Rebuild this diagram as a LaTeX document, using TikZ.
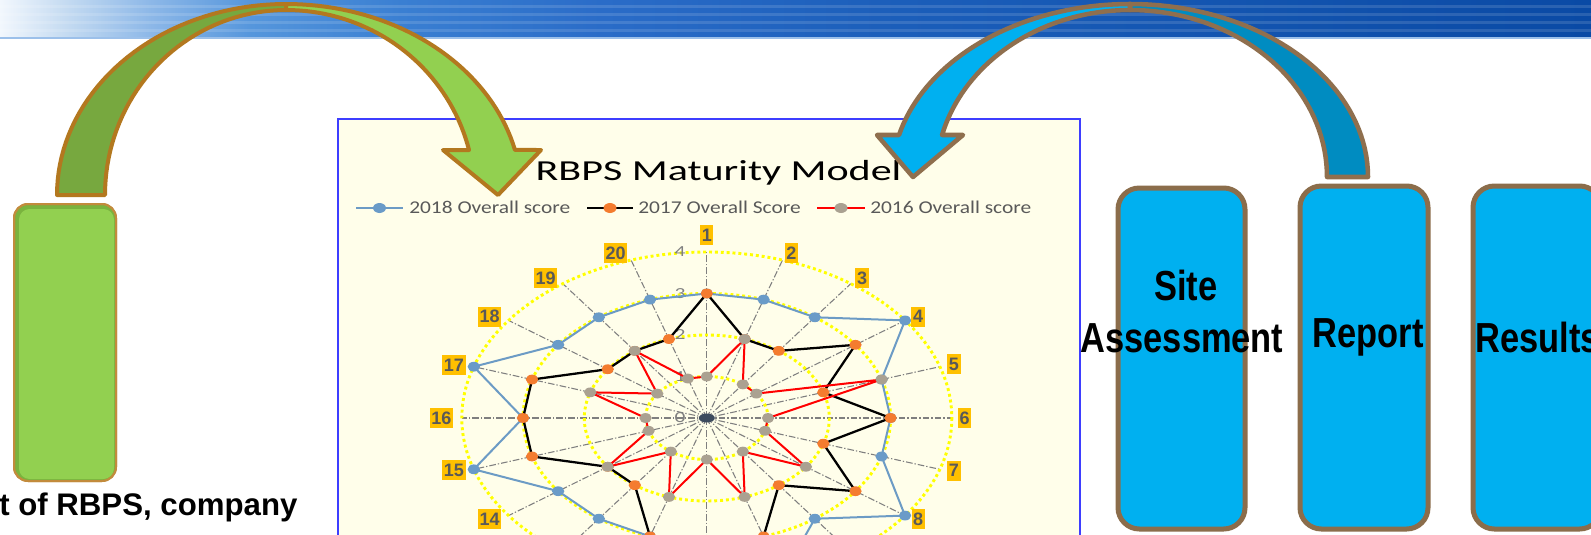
\documentclass[tikz,border=0pt]{standalone}
\usepackage{fontspec}
\setmainfont{Liberation Sans}
\newfontfamily\narrowsans[FakeStretch=0.82]{Liberation Sans}
\newfontfamily\caltitle[FakeStretch=1.45]{Carlito}
\newfontfamily\callegend[FakeStretch=1.19]{Carlito}
\newfontfamily\calaxis[FakeStretch=1.4]{Carlito}
\definecolor{bn0}{HTML}{F2F7FD}
\definecolor{bn1}{HTML}{C8DDF2}
\definecolor{bn2}{HTML}{8DB8E8}
\definecolor{bn3}{HTML}{5596DC}
\definecolor{bn4}{HTML}{3A7FD2}
\definecolor{bn5}{HTML}{2A6CC8}
\definecolor{bn6}{HTML}{1B5EBA}
\definecolor{bn7}{HTML}{0A4AA5}
\definecolor{gdark}{HTML}{77A83F}
\definecolor{glight}{HTML}{92D050}
\definecolor{gbrown}{HTML}{B3781F}
\definecolor{bdark}{HTML}{008CC1}
\definecolor{blight}{HTML}{00B0F0}
\definecolor{bbrown}{HTML}{8F6F4E}
\definecolor{boxblue}{HTML}{00B0F0}
\definecolor{boxbrown}{HTML}{8B6D4B}
\definecolor{gboxshadow}{HTML}{7AB33E}
\definecolor{gboxline}{HTML}{C28B3C}
\definecolor{chartbg}{HTML}{FFFEEA}
\definecolor{chartframe}{HTML}{3E3EFF}
\definecolor{ringyellow}{HTML}{FFFF00}
\definecolor{spokegray}{HTML}{7F7F7F}
\definecolor{serblue}{HTML}{6C9BC5}
\definecolor{mkblue}{HTML}{6A9BC8}
\definecolor{mkorange}{HTML}{F47C2F}
\definecolor{mkgray}{HTML}{AAA191}
\definecolor{lblgold}{HTML}{FFC000}
\definecolor{lbltext}{HTML}{595959}
\definecolor{axgray}{HTML}{808080}
\definecolor{legtextc}{HTML}{595959}
\definecolor{blobc}{HTML}{3D4B5E}
\definecolor{bannerline}{HTML}{9CC0EA}
\pgfdeclarehorizontalshading{bannershade}{100bp}{color(0bp)=(bn0); color(25bp)=(bn0); color(26.9bp)=(bn1); color(29.7bp)=(bn2); color(32.9bp)=(bn3); color(37.6bp)=(bn4); color(43.9bp)=(bn5); color(53.3bp)=(bn6); color(75bp)=(bn7); color(100bp)=(bn7)}
\begin{document}
\begin{tikzpicture}[x=0.75pt,y=-0.75pt,
  ring/.style={draw=ringyellow,line width=2.2pt,dash pattern=on 2.2pt off 2.2pt},
  spoke/.style={draw=spokegray,line width=0.8pt,dash pattern=on 5pt off 1.5pt on 1pt off 1.5pt},
  blueser/.style={draw=serblue,line width=1.5pt,line join=round},
  blackser/.style={draw=black,line width=1.7pt,line join=round},
  redser/.style={draw=red,line width=1.5pt,line join=round},
  bluemk/.style={fill=mkblue},
  orangemk/.style={fill=mkorange},
  graymk/.style={fill=mkgray},
  catlbl/.style={fill=lblgold,text=lbltext,font=\fontsize{13.5pt}{14pt}\selectfont\bfseries,inner xsep=1.2pt,inner ysep=1pt,minimum height=15pt},
  axlbl/.style={text=axgray,font=\calaxis\fontsize{11.5pt}{12pt}\selectfont,inner sep=0pt},
  legtext/.style={text=legtextc,font=\callegend\fontsize{13.5pt}{14pt}\selectfont,inner sep=0pt,anchor=base west},
  bluebox/.style={draw=boxbrown,line width=3.75pt,fill=boxblue,rounded corners=16pt},
  boxtext/.style={font=\narrowsans\bfseries\fontsize{31.5pt}{34pt}\selectfont,inner sep=0pt},
  garrow/.style={draw=gbrown,line width=3pt,line join=round},
  barrow/.style={draw=bbrown,line width=3.4pt,line join=round}]
\useasboundingbox (0,0) rectangle (1591,535);
\clip (0,0) rectangle (1591,535);
\fill[white] (0,0) rectangle (1591,535);
% banner
\shade[shading=bannershade] (0,0) rectangle (1591,39);
\foreach \yy in {7,15,23,31} \fill[white,opacity=0.13] (0,\yy-1.5) rectangle (1591,\yy+1.5);
\fill[bannerline] (0,37.5) rectangle (1591,39);
% left green box
\node[draw=gboxline,line width=1.5pt,fill=gboxshadow,rounded corners=10.5pt,minimum width=76.5pt,minimum height=207.75pt,inner sep=0pt] (gbox) at (65,342.5) {};
\fill[glight,rounded corners=8pt] (19,209) rectangle (114,479);
\draw[gboxline,line width=1.5pt,rounded corners=10.5pt] (14,204) rectangle (116,481);
\node[anchor=base west,inner sep=0pt,font=\bfseries\fontsize{23.4pt}{26pt}\selectfont] (lefttext) at (-1,515) {t of RBPS, company};
% chart frame
\fill[chartbg] (338,119) rectangle (1080,545);
\draw[chartframe,line width=1.5pt] (338,119) rectangle (1080,545);
\node[anchor=base,inner sep=0pt,font=\caltitle\fontsize{21.75pt}{24pt}\selectfont] (title) at (718.5,180) {RBPS Maturity Model};
% legend
\coordinate (l1a) at (356,208); \coordinate (l1b) at (403,208); \coordinate (l1m) at (379.5,208);
\coordinate (l2a) at (587,208); \coordinate (l2b) at (633,208); \coordinate (l2m) at (610,208);
\coordinate (l3a) at (817,208); \coordinate (l3b) at (865,208); \coordinate (l3m) at (841,208);
\draw[blueser] (l1a) -- (l1b); \fill[bluemk] (l1m) ellipse [x radius=6.5,y radius=5];
\node[legtext] (leg1) at (409,213.5) {2018 Overall score};
\draw[blackser] (l2a) -- (l2b); \fill[orangemk] (l2m) ellipse [x radius=6.5,y radius=5];
\node[legtext] (leg2) at (638,213.5) {2017 Overall Score};
\draw[redser] (l3a) -- (l3b); \fill[graymk] (l3m) ellipse [x radius=6.5,y radius=5];
\node[legtext] (leg3) at (870,213.5) {2016 Overall score};
% radar
\def\cx{706.8}\def\cy{418}\def\ax{61.25}\def\ay{41.5}
\coordinate (O) at (\cx,\cy);
\foreach \k in {1,...,20} {
  \coordinate (S\k) at ({\cx+4*\ax*sin(18*(\k-1))},{\cy-4*\ay*cos(18*(\k-1))});
  \draw[spoke] (O) -- (S\k);
}
\fill[blobc] (O) ellipse [x radius=8,y radius=4.5];
\foreach \r in {1,2,3,4} \draw[ring] (O) ellipse [x radius={\r*\ax},y radius={\r*\ay}];
\foreach \r in {0,...,4} \node[axlbl] (R\r) at (680,{\cy-\r*\ay}) {\r};
\def\blueVals{3,3,3,4,3,3,3,4,3,4,3,3,3,3,4,3,4,3,3,3}
\def\orangeVals{3,2,2,3,2,3,2,3,2,3,3,3,2,2,3,3,3,2,2,2}
\def\grayVals{1,2,1,1,3,1,1,2,1,2,1,2,1,2,1,1,2,1,2,1}
\foreach \v [count=\k] in \blueVals {\coordinate (B\k) at ({\cx+\v*\ax*sin(18*(\k-1))},{\cy-\v*\ay*cos(18*(\k-1))});}
\foreach \v [count=\k] in \orangeVals {\coordinate (K\k) at ({\cx+\v*\ax*sin(18*(\k-1))},{\cy-\v*\ay*cos(18*(\k-1))});}
\foreach \v [count=\k] in \grayVals {\coordinate (G\k) at ({\cx+\v*\ax*sin(18*(\k-1))},{\cy-\v*\ay*cos(18*(\k-1))});}
\draw[blueser] (B1) \foreach \k in {2,...,20}{ -- (B\k)} -- cycle;
\foreach \k in {1,...,20} \fill[bluemk] (B\k) ellipse [x radius=6.2,y radius=4.9];
\draw[blackser] (K1) \foreach \k in {2,...,20}{ -- (K\k)} -- cycle;
\foreach \k in {1,...,20} \fill[orangemk] (K\k) ellipse [x radius=6.2,y radius=4.9];
\draw[redser] (G1) \foreach \k in {2,...,20}{ -- (G\k)} -- cycle;
\foreach \k in {1,...,20} \fill[graymk] (G\k) ellipse [x radius=6.2,y radius=4.9];
% category labels (9-13 fall below the visible area)
\foreach \k/\px/\py in {1/706.8/235, 2/791.4/253.3, 3/862/278.3, 4/918/316.7, 5/953.9/364.3, 6/964.6/418, 7/953.9/470.7, 8/918.2/519, 14/489.6/519, 15/453.9/470, 16/441.4/418, 17/453.9/365, 18/489.6/316.7, 19/545.7/278.3, 20/615.7/253.3}
  \node[catlbl] (C\k) at (\px,\py) {\k};
% blue boxes
\node[bluebox,minimum width=95.25pt,minimum height=255.75pt,inner sep=0pt] (site) at (1181.5,358.5) {};
\node[bluebox,minimum width=96pt,minimum height=257.25pt,inner sep=0pt] (report) at (1364,357.5) {};
\node[bluebox,minimum width=96pt,minimum height=257.25pt,inner sep=0pt] (results) at (1537,357.5) {};
\node[boxtext,anchor=base] (sitetxt) at (1186,300) {Site};
\node[boxtext,anchor=base] (assesstxt) at (1182,352) {Assessment};
\node[boxtext,anchor=base] (reporttxt) at (1368,347) {Report};
\node[boxtext,anchor=base west] (resultstxt) at (1475,352) {Results};
% green curved arrow
\filldraw[garrow,fill=gdark] (57,195)
  -- plot[domain=180:90,samples=40,variable=\t] ({286+229*cos(\t)},{195-191*sin(\t)})
  -- plot[domain=90:180,samples=40,variable=\t] ({286+181*cos(\t)},{195-185*sin(\t)}) -- cycle;
\filldraw[garrow,fill=glight] (286,4)
  -- plot[domain=90:13.63,samples=40,variable=\t] ({286+235.6*cos(\t)},{195-191*sin(\t)})
  -- (541,150) -- (498,195) -- (443,150)
  -- plot[domain=14.08:90,samples=40,variable=\t] ({286+188.7*cos(\t)},{195-185*sin(\t)}) -- cycle;
% blue curved arrow
\filldraw[barrow,fill=bdark] (1130,4)
  -- plot[domain=90:0,samples=40,variable=\t] ({1130+238*cos(\t)},{177-173*sin(\t)})
  -- (1327,177)
  -- plot[domain=0:90,samples=40,variable=\t] ({1130+197*cos(\t)},{177-167*sin(\t)}) -- cycle;
\filldraw[barrow,fill=blight] (1130,4)
  -- plot[domain=90:165.95,samples=40,variable=\t] ({1130+238.1*cos(\t)},{177-173*sin(\t)})
  -- (877,135) -- (913,177) -- (963,135)
  -- plot[domain=165.43:90,samples=40,variable=\t] ({1130+194.2*cos(\t)},{177-167*sin(\t)}) -- cycle;
\end{tikzpicture}
\end{document}
